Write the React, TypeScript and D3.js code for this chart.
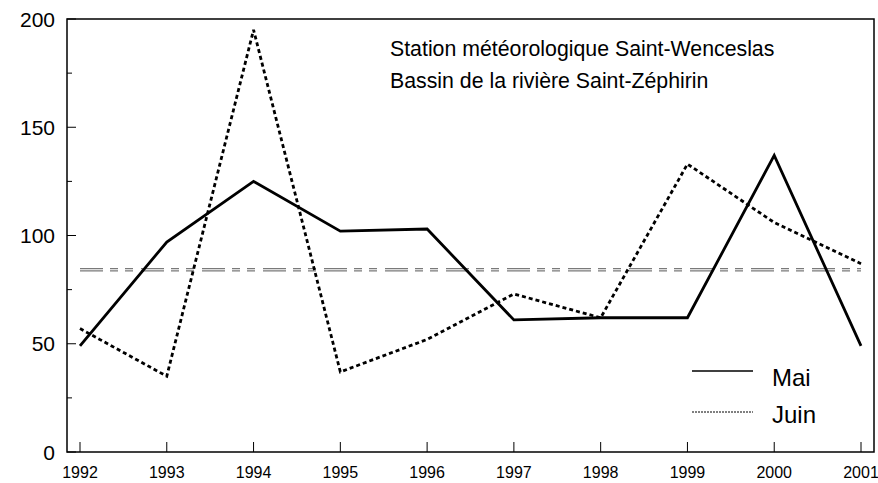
import React from "react";
import * as d3 from "d3";

const years = [1992, 1993, 1994, 1995, 1996, 1997, 1998, 1999, 2000, 2001];
const maiValues = [49, 97, 125, 102, 103, 61, 62, 62, 137, 49];
const juinValues = [57, 35, 195, 37, 52, 73, 62, 133, 106, 87];
const yMajorTicks = [0, 50, 100, 150, 200];
const yMinorTicks = [25, 75, 125, 175];
const titleLines = ["Station météorologique Saint-Wenceslas", "Bassin de la rivière Saint-Zéphirin"];
const legendLabels = ["Mai", "Juin"];

const W = 878;
const H = 483;
const left = 67;
const right = 874;
const top = 19;
const bottom = 452;

export default function App() {
  const x = d3.scaleLinear().domain([1992, 2001]).range([80, 861]);
  const y = d3.scaleLinear().domain([0, 200]).range([bottom, top]);
  const line = d3
    .line<number>()
    .x((_, i) => x(years[i]))
    .y((d) => y(d));
  const meanMai = d3.mean(maiValues) as number;
  const meanJuin = d3.mean(juinValues) as number;
  const font = "'Liberation Sans', Arial, sans-serif";
  const meanDash = "23,7,8,7,8,8";

  return (
    <svg
      width={W}
      height={H}
      style={{ position: "absolute", left: 0, top: 0, background: "#fff" }}
      fontFamily={font}
    >
      {/* mean lines */}
      {[meanMai, meanJuin].map((m, i) => (
        <line
          key={"m" + i}
          x1={x(1992)}
          x2={x(2001)}
          y1={y(m)}
          y2={y(m)}
          stroke="#7a7a7a"
          strokeWidth={1.2}
          strokeDasharray={meanDash}
        />
      ))}
      {/* series */}
      <path d={line(maiValues) || ""} fill="none" stroke="#000" strokeWidth={2.8} strokeLinejoin="miter" />
      <path d={line(juinValues) || ""} fill="none" stroke="#000" strokeWidth={2.8} strokeDasharray="4,3" />

      {/* frame */}
      <rect x={left} y={top} width={right - left} height={bottom - top} fill="none" stroke="#000" strokeWidth={1.5} />

      {/* y ticks */}
      {yMajorTicks.map((t) => (
        <g key={"ym" + t}>
          <line x1={left} x2={left + 9} y1={y(t)} y2={y(t)} stroke="#000" strokeWidth={1} />
          <text x={55} y={y(t)} dy="0.36em" textAnchor="end" fontSize={21}>
            {t}
          </text>
        </g>
      ))}
      {yMinorTicks.map((t) => (
        <line key={"yn" + t} x1={left} x2={left + 5} y1={y(t)} y2={y(t)} stroke="#000" strokeWidth={1} />
      ))}
      {/* x ticks */}
      {years.map((yr) => (
        <g key={"x" + yr}>
          <line x1={x(yr)} x2={x(yr)} y1={bottom} y2={bottom - 10} stroke="#000" strokeWidth={1} />
          <text x={x(yr)} y={478} textAnchor="middle" fontSize={16}>
            {yr}
          </text>
        </g>
      ))}

      {/* title */}
      {titleLines.map((t, i) => (
        <text key={"t" + i} x={390} y={56 + i * 32} fontSize={21.3} fill="#000">
          {t}
        </text>
      ))}

      {/* legend */}
      <line x1={692} x2={753} y1={371} y2={371} stroke="#000" strokeWidth={1.5} />
      <line x1={692} x2={753} y1={412} y2={412} stroke="#000" strokeWidth={1} strokeDasharray="2,1" />
      <text x={772} y={386} fontSize={24}>
        {legendLabels[0]}
      </text>
      <text x={772} y={423} fontSize={24}>
        {legendLabels[1]}
      </text>
    </svg>
  );
}
